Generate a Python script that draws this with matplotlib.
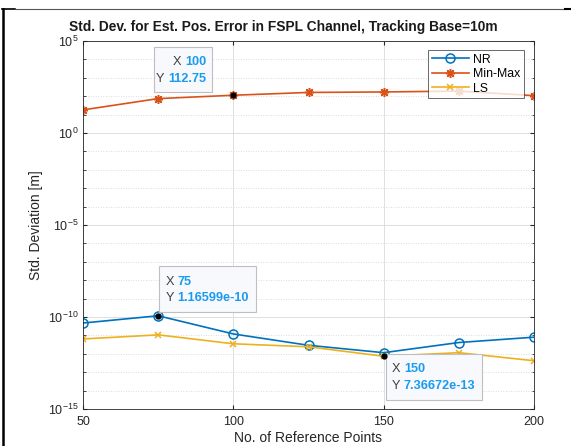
import matplotlib
matplotlib.use("Agg")
import matplotlib.pyplot as plt
import numpy as np
from matplotlib.lines import Line2D
from matplotlib.patches import Rectangle
from matplotlib.ticker import FixedLocator, LogFormatterMathtext, NullFormatter

plt.rcParams['font.family'] = ['Liberation Sans', 'DejaVu Sans']

ref_points = [50, 75, 100, 125, 150, 175, 200]
nr = [4.7e-11, 1.16599e-10, 1.2e-11, 2.9e-12, 1.15e-12, 4.1e-12, 8.0e-12]
minmax = [18.0, 74.0, 112.75, 160.0, 170.0, 190.0, 107.0]
ls = [6.4e-12, 1.07e-11, 3.5e-12, 2.4e-12, 7.36672e-13, 1.15e-12, 4.2e-13]
series_names = ["NR", "Min-Max", "LS"]
x_ticks = [50, 100, 150, 200]
y_ticks = [1e-15, 1e-10, 1e-5, 1e0, 1e5]

# data tips: (series, x index)
tips = [(minmax, 2, "100", "112.75"), (nr, 1, "75", "1.16599e-10"), (ls, 4, "150", "7.36672e-13")]

fig = plt.figure(figsize=(5.71, 4.46), dpi=100)
ax = fig.add_axes([83/571, 1-409/446, 451/571, 368/446])

c_nr, c_mm, c_ls = "#0072BD", "#D95319", "#EDB120"
ax.plot(ref_points, nr, color=c_nr, marker='o', mfc='none', ms=6.5, mew=1.1, lw=1.2, label=series_names[0])
ax.plot(ref_points, minmax, color=c_mm, marker=(8, 2, 0), ms=6.5, mew=1.1, lw=1.2, label=series_names[1])
ax.plot(ref_points, ls, color=c_ls, marker='x', ms=5, mew=1.1, lw=1.2, label=series_names[2])

ax.set_yscale('log')
ax.set_xlim(50, 200)
ax.set_ylim(1e-15, 1e5)
ax.set_xticks(x_ticks)
ax.yaxis.set_major_locator(FixedLocator(y_ticks))
ax.yaxis.set_major_formatter(LogFormatterMathtext())
ax.yaxis.set_minor_locator(FixedLocator([10.0**k for k in range(-15, 6)]))
ax.yaxis.set_minor_formatter(NullFormatter())
ax.grid(True, which='major', color='#d9d9d9', lw=0.6, ls='-')
ax.grid(True, which='minor', axis='y', color='#d0d0d0', lw=0.6, ls=(0, (1, 2)))
ax.set_axisbelow(True)
ax.tick_params(direction='in', which='both', top=True, right=True, labelsize=9, colors='#262626', length=3)
ax.tick_params(axis='x', pad=5)
ax.tick_params(which='minor', length=1.8)
for s in ax.spines.values():
    s.set_color('#262626')
    s.set_linewidth(0.6)

fig.text(283/571, 1-27/446, "Std. Dev. for Est. Pos. Error in FSPL Channel, Tracking Base=10m",
         fontsize=9.9, fontweight='bold', ha='center', va='center', color='#1a1a1a')
ax.set_xlabel("No. of Reference Points", fontsize=10, labelpad=2, color='#262626')
ax.set_ylabel("Std. Deviation [m]", fontsize=10, labelpad=3, color='#262626')

leg = ax.legend(loc='upper right', fontsize=8.8, frameon=True, fancybox=False,
                edgecolor='#262626', handlelength=3.1, borderpad=0.3, labelspacing=0.2,
                handletextpad=0.3, borderaxespad=0.0, bbox_to_anchor=(524/571, 1-50/446),
                bbox_transform=fig.transFigure)
leg.get_frame().set_linewidth(0.6)

def px2ax(px, py):
    return (px - 83) / 451, (409 - py) / 368

boxes = [
    # (x0,y0,x1,y1 px), text x px, align, line1 y, line2 y
    ((154, 47, 212, 92), 206, 'right', 62, 79),
    ((159, 266, 256, 312), 166, 'left', 282, 298),
    ((386, 354, 482, 400), 392, 'left', 369, 386),
]
blue = "#1A9BF0"
fs = 9.2
for (series, i, xs, ys), (bx, tx, ha, l1, l2) in zip(tips, boxes):
    x0, y0 = px2ax(bx[0], bx[3])
    x1, y1 = px2ax(bx[2], bx[1])
    ax.add_patch(Rectangle((x0, y0), x1 - x0, y1 - y0, transform=ax.transAxes,
                           facecolor='#F8F9FC', edgecolor='#BFBFBF', lw=0.8, zorder=6))
    ax.plot(ref_points[i], series[i], marker='o', color='black', ms=3.5, zorder=7)
    for ly, lab, val in ((l1, "X ", xs), (l2, "Y ", ys)):
        axx, axy = px2ax(tx, ly)
        if ha == 'left':
            t = ax.text(axx, axy, lab, transform=ax.transAxes, ha='left', va='center',
                        fontsize=fs, color='#404040', zorder=8)
            fig.canvas.draw()
            bb = t.get_window_extent()
            wx = ax.transAxes.inverted().transform((bb.x1, bb.y0))[0]
            ax.text(wx, axy, val, transform=ax.transAxes, ha='left', va='center',
                    fontsize=fs, color=blue, fontweight='bold', zorder=8)
        else:
            t = ax.text(axx, axy, val, transform=ax.transAxes, ha='right', va='center',
                        fontsize=fs, color=blue, fontweight='bold', zorder=8)
            fig.canvas.draw()
            bb = t.get_window_extent()
            wx = ax.transAxes.inverted().transform((bb.x0, bb.y0))[0]
            ax.text(wx, axy, lab, transform=ax.transAxes, ha='right', va='center',
                    fontsize=fs, color='#404040', zorder=8)

# page border decorations
fig.add_artist(Line2D([3/571, 3/571], [0, 1-9/446], transform=fig.transFigure, color='black', lw=1.8))
fig.add_artist(Line2D([2/571, 15/571], [1-9/446, 1-9/446], transform=fig.transFigure, color='black', lw=1.2))
fig.add_artist(Line2D([15/571, 565/571], [1-9/446, 1-9/446], transform=fig.transFigure, color='#555555', lw=0.8))
fig.add_artist(Line2D([565/571, 1], [1-9/446, 1-9/446], transform=fig.transFigure, color='black', lw=1.5))

fig.savefig("out.png", dpi=100)
